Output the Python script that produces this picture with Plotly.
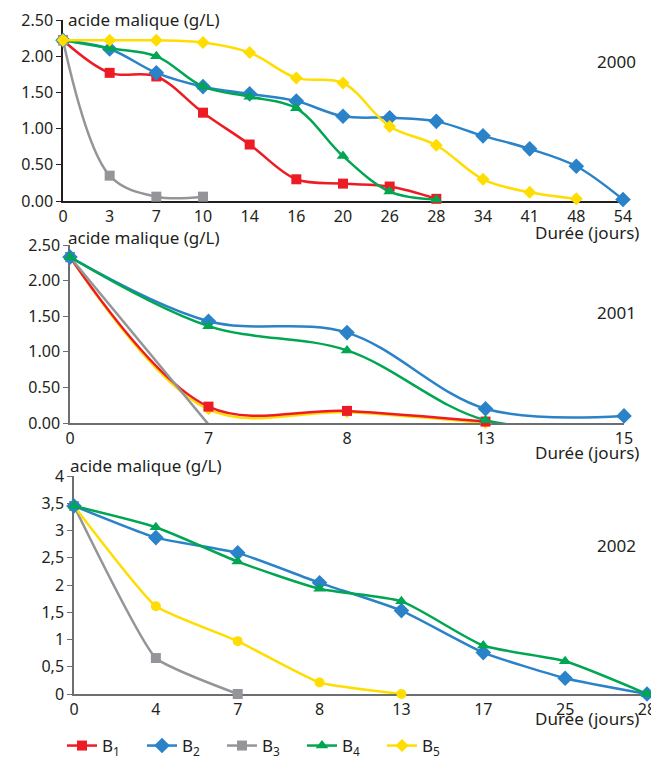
import plotly.graph_objects as go

# ---------------- data ----------------
days_2000 = ["0", "3", "7", "10", "14", "16", "20", "26", "28", "34", "41", "48", "54"]
b1_2000 = [2.22, 1.77, 1.72, 1.22, 0.78, 0.30, 0.24, 0.20, 0.03]
b2_2000 = [2.22, 2.10, 1.77, 1.58, 1.48, 1.38, 1.17, 1.15, 1.10, 0.90, 0.72, 0.48, 0.02]
b3_2000 = [2.22, 0.35, 0.06, 0.06]
b4_2000 = [2.22, 2.11, 2.00, 1.58, 1.44, 1.28, 0.62, 0.13, 0.02]
b5_2000 = [2.22, 2.22, 2.22, 2.19, 2.05, 1.70, 1.63, 1.03, 0.77, 0.30, 0.12, 0.03]

days_2001 = ["0", "7", "8", "13", "15"]
b1_2001 = [2.33, 0.23, 0.17, 0.02]
b2_2001 = [2.33, 1.43, 1.27, 0.20, 0.10]
b3_2001 = [2.33, -0.02]
b4_2001 = [2.33, 1.36, 1.02, 0.04, -0.03]
b5_2001 = [2.33, 0.19, 0.15, 0.00]

days_2002 = ["0", "4", "7", "8", "13", "17", "25", "28"]
b2_2002 = [3.45, 2.87, 2.59, 2.04, 1.53, 0.76, 0.29, 0.00]
b3_2002 = [3.45, 0.66, 0.00]
b4_2002 = [3.45, 3.06, 2.43, 1.93, 1.70, 0.89, 0.60, 0.00]
b5_2002 = [3.45, 1.61, 0.97, 0.21, 0.00]

y_ticks_a = [0, 0.5, 1, 1.5, 2, 2.5]
y_text_a = ["0.00", "0.50", "1.00", "1.50", "2.00", "2.50"]
y_ticks_c = [0, 0.5, 1, 1.5, 2, 2.5, 3, 3.5, 4]
y_text_c = ["0", "0,5", "1", "1,5", "2", "2,5", "3", "3,5", "4"]

names = ["B<sub>1</sub>", "B<sub>2</sub>", "B<sub>3</sub>", "B<sub>4</sub>", "B<sub>5</sub>"]
colors = ["#ED1C24", "#2A82C8", "#939598", "#00A651", "#FFDD00"]

# page body has an 8px margin: the figure starts at (8, 8) of the window
OFF = 8
W, H = 651, 751
FONT = "Noto Sans"


def px_x(v):
    return (v - OFF) / W


def px_y(v):
    return 1 - (v - OFF) / H


fig = go.Figure()


def add(xs, ys, idx, axis, symbol, size, smoothing, show):
    xa, ya = axis
    fig.add_trace(go.Scatter(
        x=xs[:len(ys)], y=ys, name=names[idx], xaxis=xa, yaxis=ya,
        mode="lines+markers", cliponaxis=False,
        line=dict(color=colors[idx], width=2.5, shape="spline", smoothing=smoothing),
        marker=dict(symbol=symbol, size=size, color=colors[idx]),
        legendgroup=str(idx), showlegend=show,
    ))


# panel 2000
ax1 = ("x", "y")
add(days_2000, b1_2000, 0, ax1, "square", 10, 1.0, True)
add(days_2000, b2_2000, 1, ax1, "diamond", 12, 1.0, True)
add(days_2000, b3_2000, 2, ax1, "square", 10, 1.0, True)
add(days_2000, b4_2000, 3, ax1, "triangle-up", 11, 1.0, True)
add(days_2000, b5_2000, 4, ax1, "diamond", 10, 1.0, True)

# panel 2001
ax2 = ("x2", "y2")
add(days_2001, b5_2001, 4, ax2, "diamond", 9, 1.0, False)
add(days_2001, b1_2001, 0, ax2, "square", 10, 1.0, False)
add(days_2001, b3_2001, 2, ax2, "square", 10, 1.0, False)
add(days_2001, b2_2001, 1, ax2, "diamond", 12, 1.0, False)
add(days_2001, b4_2001, 3, ax2, "triangle-up", 11, 1.0, False)

# panel 2002
ax3 = ("x3", "y3")
add(days_2002, b3_2002, 2, ax3, "square", 10, 0.4, False)
add(days_2002, b5_2002, 4, ax3, "circle", 10, 0.4, False)
add(days_2002, b2_2002, 1, ax3, "diamond", 12, 0.5, False)
add(days_2002, b4_2002, 3, ax3, "triangle-up", 11, 0.6, False)

tickfont = dict(family=FONT, size=16, color="#231F20")


def xaxis(days, x0, x1, anchor, linecolor):
    return dict(
        type="category", categoryorder="array", categoryarray=days,
        range=[0, len(days) - 1], domain=[px_x(x0), px_x(x1)], anchor=anchor,
        showline=True, linecolor=linecolor, linewidth=1.5, showgrid=False,
        zeroline=False, ticks="", tickfont=tickfont, fixedrange=True,
        automargin=False, layer="below traces", ticklabeloverflow="allow",
    )


def yaxis(tv, tt, rng, top, bottom, anchor, linecolor):
    return dict(
        tickvals=tv, ticktext=tt, range=rng,
        domain=[px_y(bottom), px_y(top)], anchor=anchor,
        showline=True, linecolor=linecolor, linewidth=1.5, showgrid=False,
        zeroline=False, ticks="outside", ticklen=5, tickcolor=linecolor,
        tickfont=tickfont, fixedrange=True, automargin=False,
        layer="below traces", ticklabeloverflow="allow",
    )


fig.update_layout(
    width=W, height=H,
    margin=dict(l=0, r=0, t=0, b=0, autoexpand=False),
    paper_bgcolor="white", plot_bgcolor="white",
    font=dict(family=FONT, color="#231F20"),
    xaxis=xaxis(days_2000, 63, 623, "y", "#231F20"),
    yaxis=yaxis(y_ticks_a, y_text_a, [0, 2.5], 20, 201, "x", "#231F20"),
    xaxis2=xaxis(days_2001, 70, 624, "y2", "#6D6E71"),
    yaxis2=yaxis(y_ticks_a, y_text_a, [0, 2.5], 245, 423, "x2", "#6D6E71"),
    xaxis3=xaxis(days_2002, 74, 647, "y3", "#6D6E71"),
    yaxis3=yaxis(y_ticks_c, y_text_c, [0, 4], 476, 694, "x3", "#6D6E71"),
    legend=dict(
        orientation="h", x=px_x(62), y=px_y(746), xanchor="left", yanchor="middle",
        font=dict(family=FONT, size=17, color="#231F20"),
        entrywidth=35, entrywidthmode="pixels", itemwidth=30,
        bgcolor="rgba(0,0,0,0)",
    ),
)

ann_font = dict(family=FONT, size=17, color="#231F20")
labels = [
    ("acide malique (g/L)", 66, 19, "left"),
    ("Durée (jours)", 641, 232, "right"),
    ("2000", 638, 62, "right"),
    ("acide malique (g/L)", 66, 237, "left"),
    ("Durée (jours)", 641, 452, "right"),
    ("2001", 638, 313, "right"),
    ("acide malique (g/L)", 68, 466, "left"),
    ("Durée (jours)", 641, 718, "right"),
    ("2002", 638, 545, "right"),
]
for text, x, y, xa in labels:
    fig.add_annotation(
        text=text, x=px_x(x), y=px_y(y), xref="paper", yref="paper",
        xanchor=xa, yanchor="middle", showarrow=False, font=ann_font,
    )

fig.write_html("out.html")
